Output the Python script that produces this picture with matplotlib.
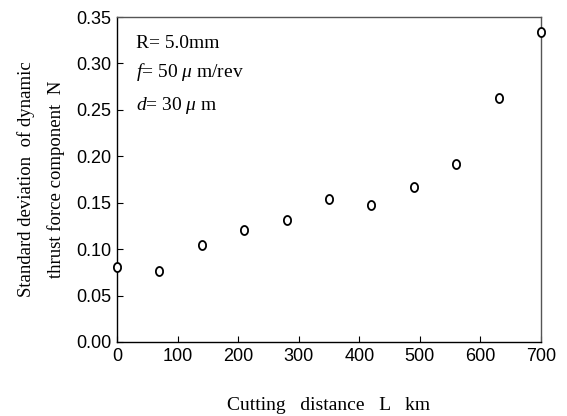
import matplotlib
matplotlib.use('Agg')
import matplotlib.pyplot as plt
import numpy as np

# cutting distance (km) and std dev of thrust force (N)
distance = [0, 70, 140, 210, 280, 350, 420, 490, 560, 630, 700]
std_force = [0.081, 0.077, 0.105, 0.121, 0.131, 0.154, 0.148, 0.167, 0.192, 0.263, 0.334]

xticks = [0, 100, 200, 300, 400, 500, 600, 700]
yticks = [0.00, 0.05, 0.10, 0.15, 0.20, 0.25, 0.30, 0.35]

plt.rcParams['mathtext.fontset'] = 'custom'
plt.rcParams['mathtext.rm'] = 'Liberation Serif'
plt.rcParams['mathtext.it'] = 'Liberation Serif:italic'

# slightly tall open ellipse as marker
t = np.linspace(0, 2 * np.pi, 40)
ellipse = np.column_stack([0.8 * np.cos(t), np.sin(t)])

fig = plt.figure(figsize=(5.67, 4.16), dpi=100)
ax = fig.add_axes([117 / 567, 1 - 342 / 416, 424 / 567, 325 / 416])

ax.plot(distance, std_force, linestyle='none', marker=ellipse, markersize=6.5,
        markerfacecolor='white', markeredgecolor='black', markeredgewidth=1.3,
        clip_on=False, zorder=3)

ax.set_xlim(0, 700)
ax.set_ylim(0, 0.35)
ax.set_xticks(xticks)
ax.set_yticks(yticks)
ax.set_yticklabels(['%.2f' % v for v in yticks])
ax.tick_params(direction='in', length=4, width=0.8, labelsize=13, pad=4)
for lab in ax.get_xticklabels() + ax.get_yticklabels():
    lab.set_family('Liberation Sans')

for side in ['left', 'bottom']:
    ax.spines[side].set_color('black')
    ax.spines[side].set_linewidth(1.0)
for side in ['top', 'right']:
    ax.spines[side].set_color('#555555')
    ax.spines[side].set_linewidth(1.0)

serif = 'Liberation Serif'
ax.set_xlabel('Cutting   distance   L   km', family=serif, fontsize=14, labelpad=23)
ax.set_ylabel('Standard deviation  of dynamic\nthrust force component  N',
              family=serif, fontsize=13.5, labelpad=8, linespacing=1.85)

# test conditions
ax.text(0.045, 0.905, 'R= 5.0mm', transform=ax.transAxes, family=serif, fontsize=14)
ax.text(0.045, 0.815, r'$\it{f}$= 50 $\mu$ m/rev', transform=ax.transAxes,
        family=serif, fontsize=14)
ax.text(0.045, 0.715, r'$\it{d}$= 30 $\mu$ m', transform=ax.transAxes,
        family=serif, fontsize=14)

fig.savefig('out.png', dpi=100)
